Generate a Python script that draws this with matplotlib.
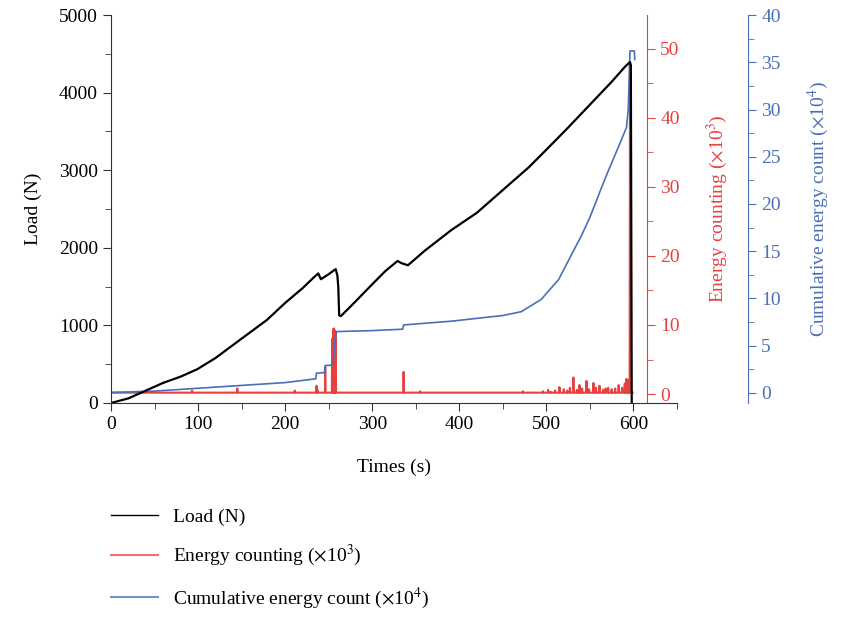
import numpy as np
import matplotlib.pyplot as plt
from matplotlib.ticker import MultipleLocator
from matplotlib.lines import Line2D

plt.rcParams['font.family'] = ['Liberation Serif', 'DejaVu Serif']
plt.rcParams['font.size'] = 14
plt.rcParams['mathtext.fontset'] = 'stix'

# load curve (N)
load_t = [0, 20, 40, 60, 80, 99, 120, 150, 179, 200, 220, 233, 238, 241, 250, 256, 258,
          260, 261, 262, 264, 280, 300, 315, 329, 334, 341, 360, 391, 420, 450, 480,
          500, 525, 550, 575, 590, 596, 597, 598]
load_v = [0, 60, 160, 260, 340, 435, 580, 830, 1070, 1290, 1480, 1620, 1670, 1595, 1660,
          1710, 1725, 1640, 1490, 1130, 1120, 1300, 1530, 1700, 1830, 1800, 1775, 1960,
          2230, 2450, 2745, 3040, 3265, 3550, 3845, 4140, 4330, 4395, 4350, 0]

# energy counting (x10^3): baseline plus spikes
energy_base = 0.2
spike_t = [93, 145, 211, 236, 237, 246, 254, 255, 256, 257, 258, 336, 355, 473, 496, 502,
           505, 510, 515, 520, 524, 527, 531, 535, 538, 541, 546, 549, 554, 557, 561, 565,
           568, 571, 575, 579, 583, 587, 590, 592, 594, 596]
spike_v = [0.5, 0.8, 0.5, 1.2, 0.6, 3.9, 8.0, 9.4, 9.5, 9.2, 8.8, 3.2, 0.4, 0.4, 0.4, 0.6,
           0.3, 0.5, 1.0, 0.7, 0.5, 0.9, 2.4, 0.6, 1.3, 0.8, 1.9, 0.7, 1.6, 0.9, 1.2, 0.6,
           0.8, 0.9, 0.7, 0.8, 1.3, 0.9, 1.5, 2.2, 2.0, 47.8]
energy_end = 599

# cumulative energy count (x10^4)
cum_t = [0, 50, 100, 150, 200, 235, 236, 245, 246, 255, 256, 257, 259, 300, 335, 336, 391,
         450, 471, 494, 514, 532, 540, 550, 567, 583, 592, 594, 596, 601, 601.5]
cum_v = [0.05, 0.2, 0.5, 0.8, 1.1, 1.5, 2.1, 2.15, 2.9, 2.95, 4.0, 5.5, 6.5, 6.6, 6.75,
         7.2, 7.6, 8.2, 8.6, 9.9, 12.0, 15.2, 16.6, 18.6, 22.6, 26.1, 28.1, 30.0, 36.2,
         36.2, 35.3]

red = '#e8403f'
blue = '#4a6fb8'

# build energy series from baseline + spikes
et, ev = [0], [energy_base]
for t, v in zip(spike_t, spike_v):
    et += [t - 0.4, t, t + 0.4]
    ev += [energy_base, v, energy_base]
et += [energy_end]
ev += [energy_base]

fig = plt.figure(figsize=(8.47, 6.18), dpi=100)
ax = fig.add_axes([0.1311, 0.3479, 0.6682, 0.6278])
ax_r = ax.twinx()
ax_b = ax.twinx()

ax_r.plot(et, ev, color=red, lw=1.5)
ax_b.plot(cum_t, cum_v, color=blue, lw=1.2)
ax.plot(load_t, load_v, color='black', lw=1.6)
ax.set_zorder(3)
ax.patch.set_visible(False)

ax.set_xlim(0, 650)
ax.set_ylim(0, 5000)
ax_r.set_ylim(-1.3, 54.9)
ax_b.set_ylim(-1.06, 40)

ax.set_xlabel('Times (s)', labelpad=18)
ax.set_ylabel('Load (N)', labelpad=12)
ax.xaxis.set_major_locator(MultipleLocator(100))
ax.xaxis.set_minor_locator(MultipleLocator(50))
ax.yaxis.set_major_locator(MultipleLocator(1000))
ax.yaxis.set_minor_locator(MultipleLocator(500))
for s in ['top', 'right']:
    ax.spines[s].set_visible(False)
for s in ['left', 'bottom']:
    ax.spines[s].set_color('#333333')
ax.tick_params(which='major', direction='out', length=6, color='#333333')
ax.tick_params(which='minor', direction='out', length=4, color='#333333')

for a, col, pos, step, minor, lab in [
        (ax_r, red, 0.947, 10, 5, r'Energy counting ($\times$10$^3$)'),
        (ax_b, blue, 1.1254, 5, 2.5, r'Cumulative energy count ($\times$10$^4$)')]:
    for s in ['top', 'left', 'bottom']:
        a.spines[s].set_visible(False)
    a.spines['right'].set_position(('axes', pos))
    a.spines['right'].set_color(col)
    a.yaxis.set_major_locator(MultipleLocator(step))
    a.yaxis.set_minor_locator(MultipleLocator(minor))
    a.tick_params(which='major', colors=col, length=6)
    a.tick_params(which='minor', colors=col, length=4)
    a.set_ylabel(lab, color=col, labelpad=18)

handles = [Line2D([], [], color='black', lw=1),
           Line2D([], [], color='#f07070', lw=1.5),
           Line2D([], [], color='#7090d0', lw=1.5)]
labels = ['Load (N)', r'Energy counting ($\times$10$^3$)',
          r'Cumulative energy count ($\times$10$^4$)']
fig.legend(handles, labels, loc='upper left', bbox_to_anchor=(0.131, 0.178),
           frameon=False, borderpad=0, borderaxespad=0, handlelength=2.4,
           handletextpad=0.8, labelspacing=0.9)

fig.savefig('out.png', dpi=100)
